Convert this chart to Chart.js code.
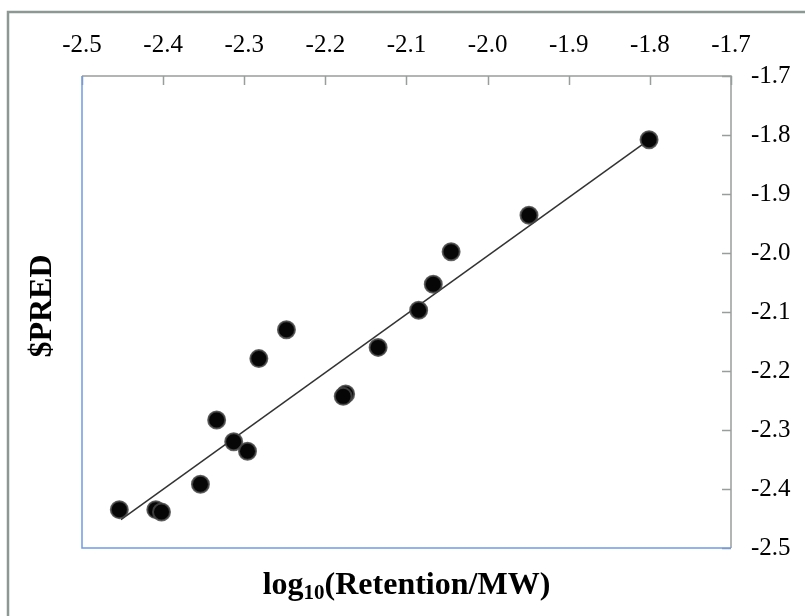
<!DOCTYPE html>
<html>
<head>
<meta charset="utf-8">
<script src="https://cdn.jsdelivr.net/npm/chart.js@4"></script>
<style>
  html, body { margin: 0; padding: 0; background: #fff; }
  #wrap { width: 805px; height: 616px; position: relative; }
</style>
</head>
<body>
<div id="wrap"><canvas id="chart" width="805" height="616"></canvas></div>
<script>
const measuredX = [-2.454, -2.409, -2.402, -2.354, -2.334, -2.313, -2.296, -2.282, -2.248, -2.175, -2.178, -2.135, -2.085, -2.067, -2.045, -1.949, -1.801];
const predY = [-2.435, -2.435, -2.439, -2.392, -2.283, -2.320, -2.336, -2.179, -2.130, -2.239, -2.243, -2.160, -2.097, -2.053, -1.998, -1.936, -1.808];
const fitX = [-2.452, -1.800];
const fitY = [-2.452, -1.807];
const xTicks = [-2.5, -2.4, -2.3, -2.2, -2.1, -2.0, -1.9, -1.8, -1.7];
const yTicks = [-2.5, -2.4, -2.3, -2.2, -2.1, -2.0, -1.9, -1.8, -1.7];

const serif = '"Liberation Serif", "Times New Roman", serif';
const frameGrey = '#8c9894';
const boxGrey = '#999d9c';
const boxBlue = '#6f9be6';

// frame, box edges, inward ticks and axis titles
const decor = {
  id: 'decor',
  beforeDraw(chart) {
    const ctx = chart.ctx;
    ctx.save();
    ctx.fillStyle = '#fff';
    ctx.fillRect(0, 0, chart.width, chart.height);
    ctx.strokeStyle = frameGrey;
    ctx.lineWidth = 2.5;
    ctx.strokeRect(8, 12, chart.width + 20, chart.height + 20);
    ctx.restore();
  },
  afterDraw(chart) {
    const ctx = chart.ctx;
    const a = chart.chartArea;
    const xs = chart.scales.x, ys = chart.scales.y;
    ctx.save();
    ctx.lineWidth = 1.5;
    ctx.strokeStyle = boxGrey;
    ctx.beginPath();
    ctx.moveTo(a.left, a.top); ctx.lineTo(a.right, a.top); ctx.lineTo(a.right, a.bottom);
    ctx.stroke();
    ctx.beginPath();
    xs.ticks.forEach(t => {
      const px = Math.round(xs.getPixelForValue(t.value)) + 0.5;
      ctx.moveTo(px, a.top); ctx.lineTo(px, a.top + 9);
    });
    ys.ticks.forEach(t => {
      const py = Math.round(ys.getPixelForValue(t.value)) + 0.5;
      ctx.moveTo(a.right, py); ctx.lineTo(a.right - 9, py);
    });
    ctx.stroke();
    ctx.strokeStyle = boxBlue;
    ctx.beginPath();
    ctx.moveTo(a.left, a.top); ctx.lineTo(a.left, a.bottom); ctx.lineTo(a.right, a.bottom);
    ctx.stroke();

    // y title
    ctx.fillStyle = '#000';
    ctx.font = 'bold 32px ' + serif;
    ctx.textAlign = 'center';
    ctx.textBaseline = 'middle';
    ctx.translate(43, 306);
    ctx.rotate(-Math.PI / 2);
    ctx.fillText('$PRED', 0, 0);
    ctx.setTransform(1, 0, 0, 1, 0, 0);

    // x title with subscript
    const big = 'bold 32px ' + serif, small = 'bold 21px ' + serif;
    ctx.textAlign = 'left';
    ctx.textBaseline = 'alphabetic';
    ctx.font = big;
    const w1 = ctx.measureText('log').width;
    const w3 = ctx.measureText('(Retention/MW)').width;
    ctx.font = small;
    const w2 = ctx.measureText('10').width;
    let x0 = (a.left + a.right) / 2 - (w1 + w2 + w3) / 2;
    const base = 594;
    ctx.font = big;
    ctx.fillText('log', x0, base);
    ctx.font = small;
    ctx.fillText('10', x0 + w1, base + 5);
    ctx.font = big;
    ctx.fillText('(Retention/MW)', x0 + w1 + w2, base);
    ctx.restore();
  }
};

new Chart(document.getElementById('chart'), {
  type: 'scatter',
  data: {
    datasets: [
      {
        type: 'line',
        data: fitX.map((x, i) => ({ x, y: fitY[i] })),
        borderColor: '#333',
        borderWidth: 1.5,
        pointRadius: 0,
        fill: false,
        order: 2
      },
      {
        data: measuredX.map((x, i) => ({ x, y: predY[i] })),
        backgroundColor: '#060606',
        borderColor: 'rgba(70,70,70,0.85)',
        borderWidth: 2,
        pointRadius: 8.5,
        order: 1
      }
    ]
  },
  options: {
    responsive: false,
    animation: false,
    events: [],
    layout: { padding: { left: 82, top: 0, right: 0, bottom: 68 } },
    plugins: { legend: { display: false }, tooltip: { enabled: false } },
    scales: {
      x: {
        type: 'linear',
        position: 'top',
        min: -2.5, max: -1.7,
        afterBuildTicks: s => { s.ticks = xTicks.map(v => ({ value: v })); },
        afterFit: s => { s.height = 76; },
        grid: { display: false, drawTicks: false },
        border: { display: false },
        ticks: {
          color: '#000',
          font: { family: serif, size: 25 },
          padding: 16,
          maxRotation: 0,
          callback: v => v.toFixed(1)
        }
      },
      y: {
        type: 'linear',
        position: 'right',
        min: -2.5, max: -1.7,
        afterBuildTicks: s => { s.ticks = yTicks.map(v => ({ value: v })); },
        afterFit: s => { s.width = 74; },
        grid: { display: false, drawTicks: false },
        border: { display: false },
        ticks: {
          color: '#000',
          font: { family: serif, size: 25 },
          padding: 20,
          callback: v => v.toFixed(1)
        }
      }
    }
  },
  plugins: [decor]
});
</script>
</body>
</html>
